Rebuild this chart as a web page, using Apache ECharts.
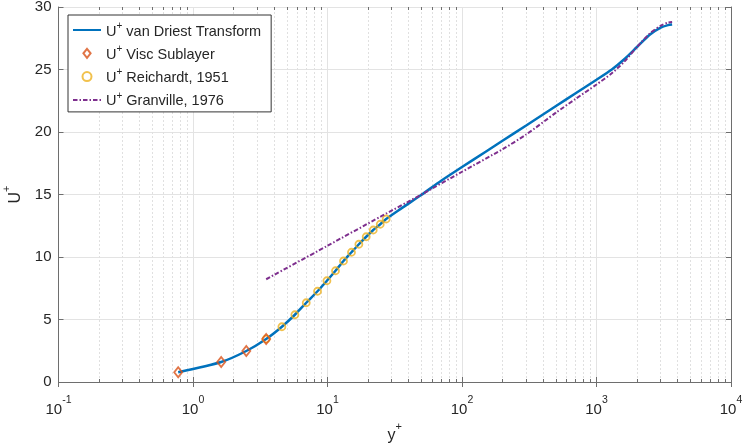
<!DOCTYPE html>
<html>
<head>
<meta charset="utf-8">
<script src="https://cdn.jsdelivr.net/npm/echarts@6/dist/echarts.min.js"></script>
<style>
html,body{margin:0;padding:0;background:#fff;}
#c{width:743px;height:447px;}
</style>
</head>
<body>
<div id="c"></div>
<script>
// ---- data ----
const yPlusVisc = [0.776, 1.62, 2.49, 3.5];
const uVisc = [0.78, 1.6, 2.48, 3.44];

const yPlusReich = [3.5, 4.58, 5.72, 6.95, 8.43, 9.9, 11.47, 13.15, 15.08, 17.11, 19.4, 21.88, 24.66, 27.3];
const uReich = [3.44, 4.42, 5.38, 6.34, 7.26, 8.10, 8.90, 9.68, 10.38, 11.02, 11.62, 12.16, 12.62, 13.04];

const yPlusVD = [0.776, 1.62, 2.49, 3.5, 4.58, 5.72, 6.95, 8.43, 9.9, 11.47, 13.15, 15.08, 17.11, 19.4, 21.88, 24.66, 27.3,
  35, 50, 70, 100, 150, 200, 300, 500, 700, 1000, 1300, 1600, 2000, 2500, 3000, 3400, 3650];
const uVD = [0.78, 1.6, 2.48, 3.44, 4.42, 5.38, 6.34, 7.26, 8.10, 8.90, 9.68, 10.38, 11.02, 11.62, 12.16, 12.62, 13.04,
  13.85, 14.98, 16.1, 17.2, 18.42, 19.3, 20.52, 22.08, 23.1, 24.18, 25.0, 25.8, 26.8, 27.8, 28.35, 28.55, 28.6];

const yPlusGran = [3.5, 10, 25, 50, 100, 200, 300, 500, 700, 1000, 1300, 1600, 2000, 2500, 3000, 3400, 3650];
const uGran = [8.22, 10.9, 13.25, 15.0, 16.82, 18.62, 19.8, 21.55, 22.65, 23.8, 24.7, 25.6, 26.8, 27.9, 28.5, 28.75, 28.8];

const xDecades = [-1, 0, 1, 2, 3, 4];
const yTicks = [0, 5, 10, 15, 20, 25, 30];
const seriesNames = ['van Driest Transform', 'Visc Sublayer', 'Reichardt, 1951', 'Granville, 1976'];

// ---- build ----
const zip = (a, b) => a.map((v, i) => [v, b[i]]);
const minorVals = [];
for (let d = xDecades[0]; d < xDecades[xDecades.length - 1]; d++) {
  for (let k = 2; k <= 9; k++) minorVals.push(+(k * Math.pow(10, d)).toPrecision(3));
}
const majorVals = xDecades.map(d => Math.pow(10, d));

const font = 'Liberation Sans, Arial, Helvetica, sans-serif';
const txt = '#262626';
const axisCol = '#6e6e6e';

const supRich = {
  b: {fontSize: 15, fontFamily: font, color: txt, lineHeight: 22, verticalAlign: 'bottom'},
  s: {fontSize: 10.5, fontFamily: font, color: txt, lineHeight: 22, verticalAlign: 'top'}
};

function logAxis(extra) {
  return Object.assign({
    type: 'log', logBase: 10, min: majorVals[0], max: majorVals[majorVals.length - 1],
    axisLine: {show: false}, axisLabel: {show: false}, splitLine: {show: false},
    axisTick: {show: false}
  }, extra);
}

const option = {
  animation: false,
  backgroundColor: '#fff',
  grid: {left: 58.5, right: 12, top: 7, bottom: 65, containLabel: false, outerBoundsMode: 'none'},
  legend: {
    orient: 'vertical', left: 68, top: 15,
    padding: [6, 10, 3, 4], itemGap: 5.3, itemWidth: 28, itemHeight: 9,
    backgroundColor: '#fff', borderColor: '#333', borderWidth: 1, borderRadius: 0,
    data: [
      {name: seriesNames[0], itemStyle: {opacity: 0}},
      {name: seriesNames[1], icon: 'path://M4,0L8,5L4,10L0,5Z'},
      {name: seriesNames[2], icon: 'circle'},
      {name: seriesNames[3], itemStyle: {opacity: 0}}
    ],
    formatter: n => '{u|U}{p|+}{t| ' + n + '}',
    textStyle: {
      fontSize: 14.5, fontFamily: font, color: txt,
      rich: {
        u: {fontSize: 14.5, fontFamily: font, color: txt, lineHeight: 18, verticalAlign: 'bottom'},
        p: {fontSize: 10, fontFamily: font, color: txt, lineHeight: 18, verticalAlign: 'top'},
        t: {fontSize: 14.5, fontFamily: font, color: txt, lineHeight: 18, verticalAlign: 'bottom'}
      }
    }
  },
  xAxis: [
    logAxis({
      position: 'bottom', name: '{y|y}{p|+}', nameLocation: 'middle', nameGap: 37,
      nameTextStyle: {rich: {
        y: {fontSize: 16, fontFamily: font, color: txt, lineHeight: 22, verticalAlign: 'bottom'},
        p: {fontSize: 11, fontFamily: font, color: txt, lineHeight: 22, verticalAlign: 'top'}
      }},
      axisLine: {show: true, lineStyle: {color: axisCol, width: 1}},
      axisTick: {show: true, inside: true, length: 5, lineStyle: {color: axisCol}},
      axisLabel: {show: true, margin: 13, formatter: v => '{b|10}{s|' + Math.round(Math.log10(v)) + '}', rich: supRich},
      splitLine: {show: true, lineStyle: {color: '#e3e3e3', width: 1}}
    }),
    logAxis({position: 'top', axisLine: {show: true, lineStyle: {color: axisCol}},
      axisTick: {show: true, inside: true, length: 5, lineStyle: {color: axisCol}}}),
    logAxis({position: 'bottom',
      axisTick: {show: true, inside: true, length: 3, customValues: minorVals, lineStyle: {color: axisCol}}}),
    logAxis({position: 'top',
      axisTick: {show: true, inside: true, length: 3, customValues: minorVals, lineStyle: {color: axisCol}}})
  ],
  yAxis: [
    {
      type: 'value', min: 0, max: 30, interval: 5, position: 'left',
      name: '{u|U}{p|+}', nameLocation: 'middle', nameGap: 34, nameRotate: 90,
      nameTextStyle: {rich: {
        u: {fontSize: 16, fontFamily: font, color: txt, lineHeight: 22, verticalAlign: 'bottom'},
        p: {fontSize: 11, fontFamily: font, color: txt, lineHeight: 22, verticalAlign: 'top'}
      }},
      axisLine: {show: true, lineStyle: {color: axisCol}},
      axisTick: {show: true, inside: true, length: 5, lineStyle: {color: axisCol}},
      axisLabel: {fontSize: 15, fontFamily: font, color: txt, margin: 7},
      splitLine: {show: true, lineStyle: {color: '#e3e3e3', width: 1}}
    },
    {
      type: 'value', min: 0, max: 30, interval: 5, position: 'right',
      axisLine: {show: true, lineStyle: {color: axisCol}},
      axisTick: {show: true, inside: true, length: 5, lineStyle: {color: axisCol}},
      axisLabel: {show: false}, splitLine: {show: false}
    }
  ],
  series: [
    {
      name: seriesNames[0], type: 'line', data: zip(yPlusVD, uVD), smooth: 0.25,
      showSymbol: false, symbol: 'none', z: 2,
      lineStyle: {color: '#0072BD', width: 2.5}, itemStyle: {color: '#0072BD'},
      markLine: {
        silent: true, symbol: 'none', label: {show: false},
        lineStyle: {color: '#e0e0e0', type: [2, 2], width: 1},
        data: minorVals.map(v => ({xAxis: v})), z: 0
      }
    },
    {
      name: seriesNames[1], type: 'scatter', data: zip(yPlusVisc, uVisc), z: 4,
      symbol: 'diamond', symbolSize: [8, 10],
      itemStyle: {color: 'rgba(0,0,0,0)', borderColor: '#D95319', borderWidth: 1.8}
    },
    {
      name: seriesNames[2], type: 'scatter', data: zip(yPlusReich, uReich), z: 3,
      symbol: 'circle', symbolSize: 7,
      itemStyle: {color: 'rgba(0,0,0,0)', borderColor: '#EDB120', borderWidth: 1.8}
    },
    {
      name: seriesNames[3], type: 'line', data: zip(yPlusGran, uGran), smooth: 0.25,
      showSymbol: false, symbol: 'none', z: 5,
      lineStyle: {color: '#7E2F8E', width: 2, type: [4.5, 2, 1.5, 2]}, itemStyle: {color: '#7E2F8E'}
    }
  ]
};

const chart = echarts.init(document.getElementById('c'), null, {renderer: 'canvas'});
chart.setOption(option);
</script>
</body>
</html>
